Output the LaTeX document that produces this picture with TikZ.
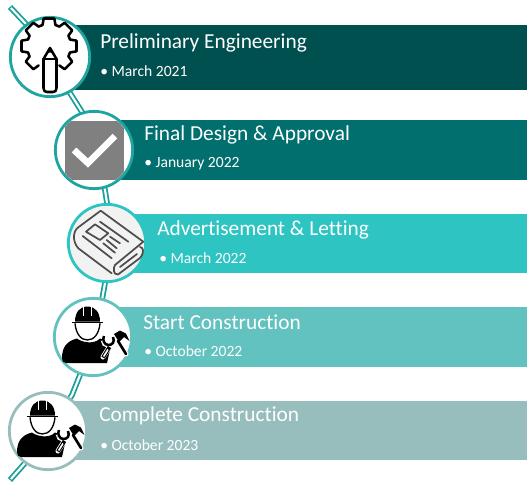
\documentclass[tikz,border=0pt]{standalone}
\usepackage{fontspec}
\setmainfont[Ligatures=NoCommon]{Carlito}
\definecolor{barA}{HTML}{005050}
\definecolor{barB}{HTML}{006F6D}
\definecolor{barC}{HTML}{2DC4C2}
\definecolor{barD}{HTML}{62C2C0}
\definecolor{barE}{HTML}{97BEBC}
\definecolor{ringA}{HTML}{1FA5A0}
\definecolor{spineC}{HTML}{1A9E9A}
\definecolor{paperC}{HTML}{4D4D4D}
\newcommand{\workericon}{%
	\fill (-20.7,-15.3) rectangle (9.7,-13.6);
	\fill (-18,-15.3) .. controls (-18,-25) and (-13,-30.5) .. (-5.7,-30.5) .. controls (2,-30.5) and (7,-25) .. (7,-15.3) -- cycle;
	\draw[white, line width=0.7pt] (-9.5,-30) -- (-9.5,-21) (-2,-30) -- (-2,-21);
	\draw[line width=1pt] (-18,-13.7) .. controls (-17,-3) and (-12,3) .. (-5.7,3) .. controls (1,3) and (6,-3) .. (7,-13.7);
	\fill (-31,21) .. controls (-31,10) and (-26,4) .. (-16,1.5) .. controls (-12,5) and (1,8) .. (7,1.5) .. controls (11,3) and (15,5) .. (18,8) -- (14,26) -- (-27,26) .. controls (-30,26) and (-31,24) .. (-31,21) -- cycle;
	\draw[white, line width=3.8pt, line cap=round] (10,20) -- (17,9) (33,17) -- (25,4);
	\draw[white, line width=4pt] (10.3,3) .. controls (10.5,6) and (12.5,8) .. (15.3,8) .. controls (19,8) and (22,6) .. (22,3);
	\draw[black, line width=2.9pt] (10,20.5) -- (16.5,10);
	\draw[white, line width=1.2pt] (10.6,19.5) -- (15,12.5);
	\draw[black, line width=2pt, line cap=round] (33,17) -- (25,4);
	\draw[black, line width=1.9pt] (11,-1) .. controls (9,3) and (11.5,8) .. (15.3,8) .. controls (19.5,8) and (22,5) .. (20,0);
	\fill[black] (21,-3) -- (27,-6.5) -- (33,-3.5) -- (36.5,4) -- (31,0) -- (26,5) -- cycle;
}
\begin{document}
\begin{tikzpicture}[x=0.75pt,y=-0.75pt,
	bar/.style={shape=rectangle, anchor=west, inner sep=0pt, minimum height=#1*0.75pt},
	ring/.style={shape=circle, draw=#1, line width=2.1pt, fill=white, inner sep=0pt, minimum size=58pt},
	titletext/.style={anchor=west, inner sep=0pt, text=white, font=\fontsize{16}{18}\selectfont},
	datetext/.style={anchor=west, inner sep=0pt, text=white, font=\fontsize{11.7}{14}\selectfont},
	spine/.style={line width=4.3pt, draw=spineC, line join=round},
	spinecore/.style={line width=1.6pt, draw=white, line join=round, shorten >=1pt, shorten <=1pt},
	iconline/.style={line width=1.9pt, line cap=round, line join=round},
	paperline/.style={line width=1.3pt, draw=paperC, line cap=round, line join=round}]
	\useasboundingbox (0,0) rectangle (527,482);
	% Spine under the circles:
	\coordinate (S0) at (10,7);
	\coordinate (S1) at (27,25);
	\coordinate (S2) at (70,93);
	\coordinate (S3) at (82,112);
	\coordinate (S4) at (105,190);
	\coordinate (S5) at (107,203);
	\coordinate (S6) at (105,283);
	\coordinate (S7) at (102,300);
	\coordinate (S8) at (80,375);
	\coordinate (S9) at (72,395);
	\coordinate (S10) at (25,463);
	\coordinate (S11) at (10,480);
	\draw[spine] (S0) -- (S1) -- (S2) -- (S3) -- (S4) -- (S5) -- (S6) -- (S7) -- (S8) -- (S9) -- (S10) -- (S11);
	\draw[spinecore] (S0) -- (S1) -- (S2) -- (S3) -- (S4) -- (S5) -- (S6) -- (S7) -- (S8) -- (S9) -- (S10) -- (S11);
	% Bars:
	\node[bar=65, fill=barA, minimum width=342.75pt] (barPrelim) at (70,57.5) {};
	\node[bar=60, fill=barB, minimum width=309pt] (barDesign) at (115,150) {};
	\node[bar=59, fill=barC, minimum width=298.5pt] (barAdvert) at (129,243.5) {};
	\node[bar=60, fill=barD, minimum width=309pt] (barStart) at (115,337) {};
	\node[bar=59, fill=barE, minimum width=342.75pt] (barFinish) at (70,430.5) {};
	% Circles:
	\node[ring=ringA, minimum size=59.5pt] (ringPrelim) at (50,57) {};
	\node[ring=ringA] (ringDesign) at (94,150) {};
	\node[ring=barC, fill=black!5] (ringAdvert) at (107,243) {};
	\node[ring=barD] (ringStart) at (93,337) {};
	\node[ring=barE] (ringFinish) at (48,431) {};
	% Labels:
	\node[titletext] (titlePrelim) at (100,42.5) {Preliminary Engineering};
	\node[datetext] (datePrelim) at (100,71) {• March 2021};
	\node[titletext] (titleDesign) at (144,134.5) {Final Design \& Approval};
	\node[datetext] (dateDesign) at (144,164) {• January 2022};
	\node[titletext] (titleAdvert) at (157,229.5) {Advertisement \& Letting};
	\node[datetext] (dateAdvert) at (159,258) {• March 2022};
	\node[titletext] (titleStart) at (143,322.5) {Start Construction};
	\node[datetext] (dateStart) at (144,351) {• October 2022};
	\node[titletext] (titleFinish) at (99,415.5) {Complete Construction};
	\node[datetext] (dateFinish) at (100,445) {• October 2023};
	% Gear and pencil:
	\begin{scope}[shift={(49,46)}]
		\foreach \a in {0,45,135,180,225,270,315}{
			\draw[iconline] (\a-17:22) -- (\a-11:28) -- (\a+11:28) -- (\a+17:22);
		}
		\foreach \a in {0,135,180,225,270,315}{
			\draw[iconline] (\a+17:22) -- (\a+28:22);
		}
	\end{scope}
	\draw[iconline, fill=white] (43.5,59) -- (50,48) -- (56.5,59) -- (56.5,88) .. controls (56.5,91) and (55,92) .. (53,92) -- (47,92) .. controls (45,92) and (43.5,91) .. (43.5,88) -- cycle;
	\fill (47.5,52.5) -- (50,48) -- (52.5,52.5) -- cycle;
	\draw[iconline] (43.5,59) -- (56.5,59);
	% Check box:
	\begin{scope}
		\clip (ringDesign) circle (37);
		\fill[black!50] (65,121) rectangle (124,180);
	\end{scope}
	\draw[white, line width=5pt] (74,150) -- (88,163) -- (115,136);
	% Newspaper:
	\draw[paperline] (115,265) -- (143.3,241.7) -- (100.7,210.7) -- (78.3,227.3) .. controls (73,231) and (72,241) .. (78.3,248.3) -- (111.7,273.3);
	\draw[paperline] (115,265) .. controls (113,268) and (113,275) .. (118,274.5) -- (140,258) .. controls (145,252) and (143,247) .. (140,247);
	\draw[paperline] (120,267) -- (137,254);
	\draw[paperline] (86,231.7) -- (95,224.3) -- (108.3,233.3) -- (100,240) -- cycle;
	\draw[paperline] (100,221.7) -- (128.3,241.7);
	\draw[paperline] (110,236.7) -- (120,243.3);
	\draw[paperline] (106.7,240) -- (116.7,248.3);
	\draw[paperline] (103.3,243.3) -- (115,252.7);
	\draw[paperline] (82.7,236) -- (111.7,258.3);
	% Workers:
	\begin{scope}[shift={(ringStart)}]
		\workericon
	\end{scope}
	\begin{scope}[shift={(ringFinish)}]
		\workericon
	\end{scope}
\end{tikzpicture}
\end{document}
